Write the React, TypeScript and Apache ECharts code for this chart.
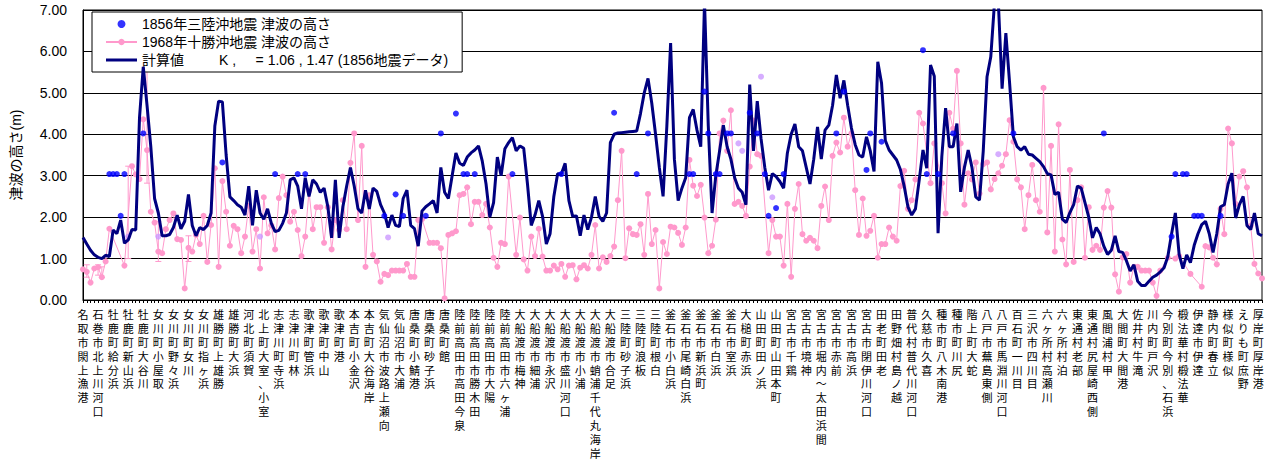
import React, { useEffect, useRef } from "react";
import * as echarts from "echarts";

// Place names (one label every 4 computation points)
const placeLabels: string[] = [
  "名取市閖上漁港", "石巻市北上川河口", "牡鹿町給分浜", "牡鹿町新山浜", "牡鹿町大谷川",
  "女川町小屋取", "女川町野々浜", "女川町女川", "女川町指ヶ浜", "雄勝町上雄勝",
  "雄勝町大浜", "河北町須賀", "北上町大室、小室", "志津川町寺浜", "志津川町林",
  "歌津町管浜", "歌津町中山", "歌津町港", "本吉町小金沢", "本吉町大谷海岸",
  "気仙沼市波路上瀬向", "気仙沼市大浦", "唐桑町小鯖港", "唐桑町砂子浜", "唐桑町館",
  "陸前高田市高田今泉", "陸前高田市勝木田", "陸前高田市大陽", "陸前高田市六ヶ浦", "大船渡市梅神",
  "大船渡市細浦", "大船渡市永沢", "大船渡市盛川河口", "大船渡市小浦", "大船渡市蛸浦千代丸海岸",
  "大船渡市合足", "三陸町砂子浜", "三陸町浪板", "三陸町根白", "釜石市小白浜",
  "釜石市尾崎白浜", "釜石市新浜町", "釜石市白浜", "釜石市室浜", "大槌町赤浜",
  "山田町田ノ浜", "山田町山田本町", "宮古市千鶏", "宮古市境神", "宮古市堀内～太田浜間",
  "宮古市赤前", "宮古市高浜", "宮古市閉伊川河口", "田老町田老", "田野畑村島ノ越",
  "普代村普代川河口", "久慈市久喜", "種市町八木南港", "種市町川尻", "階上町大蛇",
  "八戸市蕪島東側", "八戸市馬淵川河口", "百石町一川目", "三沢市四川目", "六ヶ所村高瀬川",
  "六ヶ所村泊", "東通村老部", "東通村尻屋崎西側", "風間浦村甲", "大間町大間港",
  "佐井村牛滝", "川内町戸沢", "今別町今別、石浜", "椴法華村椴法華", "伊達市伊達",
  "静内町春立", "様似町様似", "えりも町庶野", "厚岸町厚岸港",
];

// 計算値 (computed tsunami height, m) at every coast point
const calcHeights: number[] = [
  1.51, 1.35, 1.2, 1.09, 1.03, 1.0, 1.08, 1.05, 1.69, 1.6, 1.93, 1.37, 1.45, 1.7, 1.69, 4.4, 5.63, 4.7, 3.7, 2.45,
  2.1, 1.55, 1.55, 1.58, 1.75, 2.05, 1.72, 1.9, 2.55, 1.8, 1.55, 1.75, 1.7, 1.8, 2.1, 4.2, 4.8, 4.78, 3.5, 2.49,
  2.4, 2.3, 2.24, 2.05, 2.75, 1.8, 2.65, 2.1, 1.95, 2.2, 1.85, 1.65, 1.68,
  1.85, 2.1, 2.9, 2.95, 2.75, 2.2, 2.95, 2.5, 2.9, 2.8, 2.6, 2.7, 2.25, 1.5, 2.9, 1.5, 2.25, 2.75, 3.2, 2.75,
  2.2, 2.1, 2.65, 2.2, 2.7, 2.62, 2.3, 2.1, 1.75, 2.05, 1.8, 1.77, 2.45, 2.65, 1.8, 1.72, 1.3, 2.15, 2.25, 2.32,
  2.4, 2.1, 3.2, 2.6, 2.45, 3.0, 3.55, 3.3, 3.25, 3.45, 3.55, 3.62,
  3.72, 3.35, 2.8, 2.0, 2.35, 3.45, 3.0, 3.65, 3.8, 3.92, 3.6, 3.72, 3.66, 2.8, 1.8, 2.05, 2.4, 2.02, 1.35, 1.6,
  2.5, 3.05, 3.05, 3.3, 2.4, 2.02, 2.03, 1.55, 2.05, 1.7, 2.0, 2.5, 2.02, 1.9, 2.1, 3.8, 4.0, 4.03, 4.04, 4.05,
  4.06, 4.07, 4.08, 4.5, 5.0, 5.35, 4.75, 4.0, 3.2, 2.5, 4.2, 6.2,
  3.4, 2.4, 2.7, 2.95, 4.4, 4.6, 4.1, 3.7, 7.2, 4.2, 2.1, 3.0, 3.6, 4.22, 3.7, 3.4, 2.95, 2.7, 2.6, 2.3,
  5.2, 3.6, 4.8, 3.9, 3.2, 2.65, 3.05, 2.98, 2.86, 2.7, 3.55, 4.0, 4.25, 3.7, 3.6, 3.2, 2.8, 3.4, 4.18, 3.4,
  4.1, 4.22, 4.7, 5.43, 4.87, 5.3, 4.7, 4.15, 3.75, 3.5, 3.45,
  3.94, 3.6, 3.1, 5.75, 5.23, 3.85, 3.62, 3.5, 3.38, 3.15, 2.75, 2.25, 2.05, 2.2, 2.9, 3.62, 3.18, 5.67, 5.4, 1.61,
  3.46, 4.63, 3.7, 3.7, 4.26, 2.61, 3.2, 3.62, 3.2, 2.49, 2.41, 3.6, 5.39, 5.87, 7.2, 7.2, 5.1, 6.44, 5.23, 3.94,
  3.7, 3.62, 3.7, 3.52, 3.5, 3.42, 3.34, 3.22, 3.05, 3.02, 2.55, 2.6,
  1.95, 1.87, 2.11, 2.3, 2.75, 2.7, 2.35, 2.0, 1.5, 1.75, 1.6, 1.3, 1.1, 1.2, 1.55, 1.17, 1.15, 0.95, 0.7, 0.85,
  0.45, 0.35, 0.35, 0.45, 0.55, 0.6, 0.68, 0.78, 1.05, 1.6, 2.1, 1.1, 0.76, 1.09, 0.9, 1.32, 1.6, 1.82, 1.9, 1.6,
  1.15, 1.6, 2.25, 2.3, 2.8, 3.06, 1.98, 2.3, 2.5, 1.8, 1.7, 2.1, 1.6, 1.55,
];

// 1968年十勝沖地震 津波の高さ (m); null = no observation
const tokachi1968: (number | null)[] = [
  0.74, 0.68, 0.42, 0.76, 0.79, 0.55, 0.93, 1.72, null, null, null, 0.83, null, 3.23, 3.03, 2.92, 4.36, 3.62, 2.13, 1.87,
  1.17, 1.13, 1.71, 1.93, 2.09, 1.47, 1.45, 0.28, 1.26, 1.17, 1.57, 1.35, 2.03, 0.92, 1.81, 3.18, 0.8, 2.87, 2.13, 1.31,
  1.79, 1.71, 1.13, 1.53, 2.27, 1.17, 1.71, 0.76, 2.48, 1.61, 1.8, 1.22, 2.46,
  2.98, 2.53, 1.89, 2.13, 1.69, 1.06, 1.53, 2.64, 1.71, 2.24, 2.24, 1.38, 2.24, 1.22, 1.93, 1.69, 2.41, 1.71, 3.31, 4.02,
  1.93, 3.72, 0.8, 2.53, 1.09, 0.93, 0.44, 0.63, 0.6, 0.71, 0.71, 0.71, 0.71, 0.87, 0.56, 0.56, 1.93, 1.95, null, 1.38,
  1.38, 1.38, 1.25, 0.04, 1.57, 1.61, 1.66, 2.53, 2.56, 2.72, 1.83, 2.37,
  2.37, 2.05, 2.32, 1.75, 1.02, 0.8, 1.38, 1.35, 2.98, null, 1.09, 1.99, 0.98, 0.71, 1.53, 1.06, 1.72, 1.05, 0.71, 0.71,
  0.83, 0.74, 0.87, 0.56, 0.83, 0.84, 0.5, 0.78, 0.84, 0.76, 1.09, 1.81, 0.76, 1.03, 0.92, 1.06, 1.29, 2.41, 3.6, 1.01,
  1.73, 1.59, 1.57, 1.83, 1.09, 2.56, 1.35, 1.69, 0.28, 1.4, 1.11, 1.77,
  1.75, 1.62, 1.33, 1.75, 3.38, 2.76, 2.51, 2.78, 1.99, 1.13, 1.31, 1.94, 4.02, 4.33, 3.6, 4.58, 2.32, 2.37, 2.27, 2.03,
  3.22, 4.33, 3.52, 3.48, null, 1.13, 1.93, 1.53, 1.53, 0.83, 2.32, 0.56, 2.2, 2.8, 1.59, 1.43, 1.5, 1.43, 1.25, 2.27,
  2.74, 1.93, 3.48, 3.8, 3.56, 4.4, 3.7, 4.02, 2.65, 1.57, 2.45,
  1.55, 1.67, 2.03, 1.02, 1.35, 1.35, 1.75, 1.53, 1.43, 2.75, 3.12, 2.2, 2.41, 2.91, 4.52, 4.26, null, 2.82, 3.78, null,
  2.82, 2.09, 4.52, 4.14, 5.53, 3.78, 2.3, 3.06, 2.91, 3.32, 2.57, 3.28, 3.32, 2.67, 2.92, 3.06, 3.24, 3.52, 4.34, 3.82,
  2.91, 2.72, 1.71, 2.53, 3.26, 2.41, 2.13, 5.12, 1.63, 3.72, 1.17, 4.24,
  1.46, 0.86, 3.14, 0.92, 2.41, 2.72, 1.02, 2.24, 1.21, 1.31, 1.21, 2.23, 2.63, 2.23, 0.62, 0.2, 1.03, 1.11, 0.42, 0.8,
  0.8, 0.71, 0.71, 0.71, 0.42, 0.1, 0.71, null, 1.02, null, 1.0, 1.06, null, null, 0.63, null, null, 0.32, 1.3, 1.27,
  1.02, 0.86, 2.2, 1.59, 4.14, 3.78, 2.32, 2.98, 3.11, 2.72, 1.79, 0.87, 0.64, 0.52,
];

// 1968 observation ranges (error bars): point index, low, high (m)
const rangeIndex: number[] = [1, 4, 5, 12, 17, 20, 28];
const rangeLow: number[] = [0.55, 0.6, 0.55, 1.0, 2.82, 0.93, 0.93];
const rangeHigh: number[] = [0.85, 0.85, 0.8, 3.23, 6.03, 1.9, 1.55];

// 1856年三陸沖地震 津波の高さ: point index and height (m)
const sanrikuIndex: number[] = [
  7, 8, 9, 10, 11, 16, 37, 51, 57, 59, 80, 83, 85, 91, 95, 99, 101, 102, 104, 114,
  127, 141, 147, 150, 161, 162, 165, 166, 168, 169, 171, 172, 177, 179, 181, 182, 184, 186, 200, 202,
  208, 209, 212, 223, 224, 227, 231, 247, 271, 289, 290, 292, 293, 295, 296, 297, 302,
];
const sanrikuHeight: number[] = [
  3.04, 3.04, 3.04, 2.03, 3.04, 4.02, 3.32, 3.04, 3.04, 3.04, 2.03, 2.55, 2.03, 2.03, 4.02, 4.5, 3.04, 3.04, 3.04, 3.04,
  3.04, 4.52, 3.04, 4.02, 3.04, 3.04, 5.03, 4.02, 3.04, 3.04, 4.02, 4.02, 4.52, 4.02, 3.04, 2.03, 2.22, 3.04, 4.02, 5.03,
  3.14, 4.02, 3.82, 6.03, 3.04, 3.04, 4.02, 4.02, 4.02, 1.53, 3.04, 3.04, 3.04, 2.03, 2.03, 2.03, 2.03,
];

// extra lavender markers seen in the chart (not in legend)
const extraIndex: number[] = [12, 20, 47, 81, 174, 175, 180, 183, 243];
const extraHeight: number[] = [1.53, 1.53, 1.53, 1.51, 3.78, 3.6, 5.39, 2.48, 3.52];

const yMin = 0;
const yMax = 7;
const yStep = 1;

const NB = "\u00A0";
const nameSanriku = "1856年三陸沖地震 津波の高さ";
const nameTokachi = "1968年十勝沖地震 津波の高さ";
const nameCalc = "計算値" + NB.repeat(9) + "K ," + NB.repeat(5) + "= 1.06 , 1.47 (1856地震データ)";

const FONT = "'Liberation Sans', Arial, 'Noto Sans CJK JP', sans-serif";
const PINK = "#FF99CC";

export default function App() {
  const ref = useRef<HTMLDivElement>(null);
  useEffect(() => {
    document.body.style.margin = "0";
    if (!ref.current) return;
    const chart = echarts.init(ref.current, null, { renderer: "svg" });
    const categories = calcHeights.map((_, i) =>
      i % 4 === 0 && placeLabels[i / 4] !== undefined ? placeLabels[i / 4] : "#" + i
    );
    const option: any = {
      animation: false,
      backgroundColor: "#ffffff",
      textStyle: { fontFamily: FONT },
      grid: {
        left: 83,
        right: 7,
        top: 10,
        bottom: 161,
        show: true,
        borderColor: "#000",
        borderWidth: 1,
        backgroundColor: "#fff",
      },
      legend: {
        data: [
          nameSanriku,
          nameTokachi,
          { name: nameCalc, icon: "path://M0,0H31V3H0Z" },
        ],
        orient: "vertical",
        left: 92,
        top: 12,
        padding: [3, 14, 3, 13],
        itemWidth: 31,
        itemHeight: 8,
        itemGap: 0,
        borderColor: "#000",
        borderWidth: 1,
        backgroundColor: "#fff",
        textStyle: { fontSize: 14, lineHeight: 18, color: "#000", fontFamily: FONT },
      },
      xAxis: {
        type: "category",
        data: categories,
        boundaryGap: false,
        axisLine: { lineStyle: { color: "#000", width: 1 } },
        axisTick: { show: true, interval: 0, length: 3, lineStyle: { color: "#000" } },
        axisLabel: {
          interval: 3,
          margin: 7,
          fontSize: 11,
          lineHeight: 13.9,
          color: "#000",
          fontFamily: "'Noto Sans CJK JP', sans-serif",
          formatter: (v: string) => (v.startsWith("#") ? "" : v.split("").join("\n")),
        },
        splitLine: { show: false },
      },
      yAxis: {
        type: "value",
        min: yMin,
        max: yMax,
        interval: yStep,
        name: "津波の高さ(m)",
        nameLocation: "middle",
        nameGap: 60,
        nameTextStyle: { fontSize: 14, color: "#000", fontFamily: FONT },
        axisLine: { show: true, lineStyle: { color: "#000", width: 1 } },
        axisTick: { show: false },
        axisLabel: {
          margin: 16,
          fontSize: 14,
          color: "#000",
          formatter: (v: number) => v.toFixed(2),
        },
        splitLine: { show: true, lineStyle: { color: "#000", width: 1 } },
      },
      series: [
        {
          name: nameSanriku,
          type: "scatter",
          data: sanrikuIndex.map((i, k) => [i, sanrikuHeight[k]]),
          symbol: "circle",
          symbolSize: 6,
          itemStyle: { color: "#0000FF" },
          z: 5,
        },
        {
          name: nameTokachi,
          type: "line",
          data: tokachi1968,
          connectNulls: true,
          symbol: "circle",
          symbolSize: 6,
          showSymbol: true,
          showAllSymbol: true,
          lineStyle: { color: PINK, width: 1 },
          itemStyle: { color: PINK },
          z: 3,
        },
        {
          name: "range1968",
          type: "custom",
          data: rangeIndex.map((i, k) => [i, rangeLow[k], rangeHigh[k]]),
          renderItem: (params: any, api: any) => {
            const lo = api.coord([api.value(0), api.value(1)]);
            const hi = api.coord([api.value(0), api.value(2)]);
            const w = 3;
            const st = { stroke: PINK, lineWidth: 1 };
            return {
              type: "group",
              children: [
                { type: "line", shape: { x1: lo[0], y1: lo[1], x2: hi[0], y2: hi[1] }, style: st },
                { type: "line", shape: { x1: lo[0] - w, y1: lo[1], x2: lo[0] + w, y2: lo[1] }, style: st },
                { type: "line", shape: { x1: hi[0] - w, y1: hi[1], x2: hi[0] + w, y2: hi[1] }, style: st },
              ],
            };
          },
          z: 2,
        },
        {
          name: nameCalc,
          type: "line",
          data: calcHeights,
          symbol: "none",
          lineStyle: { color: "#000080", width: 3 },
          itemStyle: { color: "#000080" },
          z: 4,
        },
        {
          name: "extra",
          type: "scatter",
          data: extraIndex.map((i, k) => [i, extraHeight[k]]),
          symbol: "circle",
          symbolSize: 6,
          itemStyle: { color: "#CC99FF" },
          z: 3,
        },
      ],
    };
    chart.setOption(option);
    return () => chart.dispose();
  }, []);
  return <div ref={ref} style={{ width: 1269, height: 461 }} />;
}
